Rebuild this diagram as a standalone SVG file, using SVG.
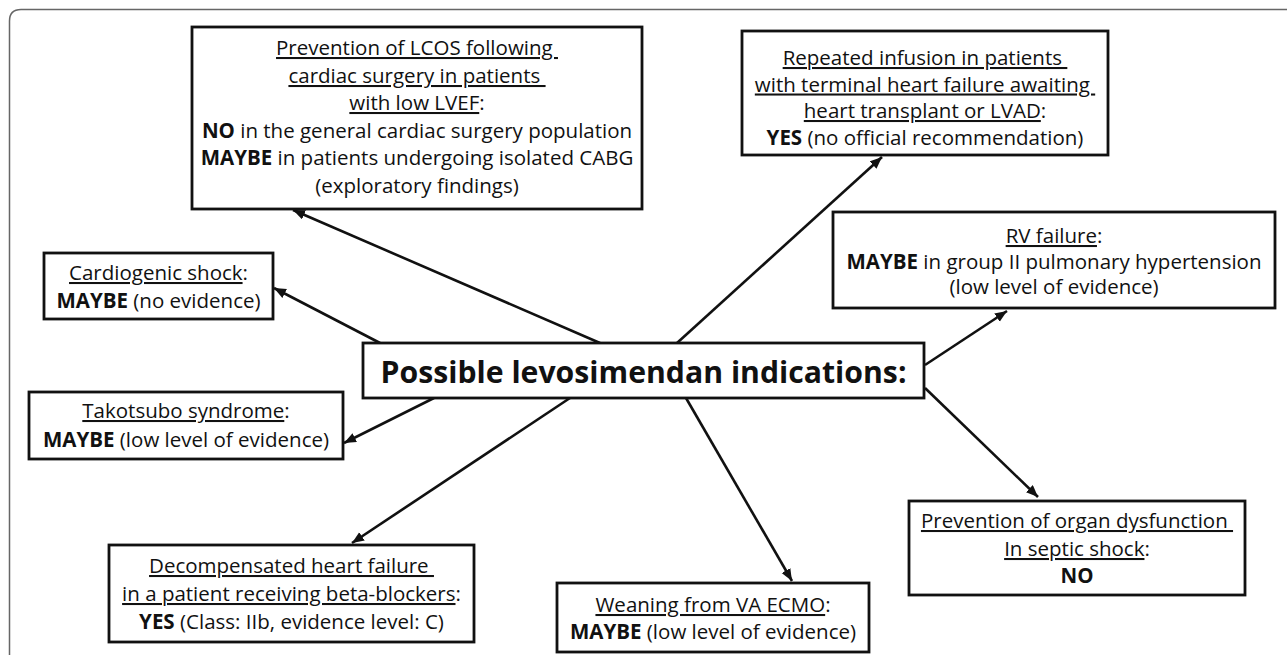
<svg xmlns="http://www.w3.org/2000/svg" width="1287" height="655" viewBox="0 0 1287 655">
  <defs>
    <marker id="arrow" markerUnits="userSpaceOnUse" markerWidth="13" markerHeight="11" refX="12" refY="5" orient="auto">
      <path d="M0,0 L12,5 L0,10 Z" fill="#111"/>
    </marker>
    <style>
      .box { fill: #fff; stroke: #111; stroke-width: 2.8; }
      .t { font-family: "Open Sans", "Liberation Sans", sans-serif; font-size: 20.5px; fill: #111; text-anchor: middle; }
      .b { font-weight: 700; }
      .u { text-decoration: underline; }
      .title { font-family: "Open Sans", "Liberation Sans", sans-serif; font-size: 31px; font-weight: 700; fill: #111; text-anchor: middle; }
      .conn { stroke: #111; stroke-width: 2.6; fill: none; marker-end: url(#arrow); }
      .frame { fill: none; stroke: #666; stroke-width: 1.5; }
    </style>
  </defs>
  <rect width="1287" height="655" fill="#fff"/>
  <path class="frame" d="M9.5,655 V21 Q9.5,9.5 21,9.5 H1287"/>

  <g id="connectors">
    <line class="conn" x1="600" y1="343" x2="293" y2="210"/>
    <line class="conn" x1="380" y1="343" x2="274" y2="288"/>
    <line class="conn" x1="677" y1="343" x2="882" y2="157"/>
    <line class="conn" x1="925" y1="365" x2="1007" y2="311"/>
    <line class="conn" x1="925" y1="388" x2="1038" y2="497"/>
    <line class="conn" x1="434" y1="398" x2="344" y2="443"/>
    <line class="conn" x1="570" y1="398" x2="352" y2="543"/>
    <line class="conn" x1="686" y1="398" x2="792" y2="581"/>
  </g>

  <g id="center">
    <rect class="box" x="363" y="343" width="561" height="55"/>
    <text class="title" x="643.5" y="382.5" textLength="526" lengthAdjust="spacingAndGlyphs">Possible levosimendan indications:</text>
  </g>

  <g id="lcos">
    <rect class="box" x="192" y="27" width="450" height="182"/>
    <text class="t" x="417" y="55"><tspan class="u">Prevention of LCOS following&#160;</tspan></text>
    <text class="t" x="417" y="83"><tspan class="u">cardiac surgery in patients&#160;</tspan></text>
    <text class="t" x="417" y="110"><tspan class="u">with low LVEF</tspan>:</text>
    <text class="t" x="417" y="138"><tspan class="b">NO</tspan> in the general cardiac surgery population</text>
    <text class="t" x="417" y="165"><tspan class="b">MAYBE</tspan> in patients undergoing isolated CABG</text>
    <text class="t" x="417" y="193">(exploratory findings)</text>
  </g>

  <g id="repeated">
    <rect class="box" x="742" y="31" width="366" height="124"/>
    <text class="t" x="925" y="65"><tspan class="u">Repeated infusion in patients&#160;</tspan></text>
    <text class="t" x="925" y="91.5"><tspan class="u">with terminal heart failure awaiting&#160;</tspan></text>
    <text class="t" x="925" y="118"><tspan class="u">heart transplant or LVAD</tspan>:</text>
    <text class="t" x="925" y="144.5"><tspan class="b">YES</tspan> (no official recommendation)</text>
  </g>

  <g id="rv">
    <rect class="box" x="833" y="212" width="442" height="96"/>
    <text class="t" x="1054" y="243"><tspan class="u">RV failure</tspan>:</text>
    <text class="t" x="1054" y="268.5"><tspan class="b">MAYBE</tspan> in group II pulmonary hypertension</text>
    <text class="t" x="1054" y="294">(low level of evidence)</text>
  </g>

  <g id="cardiogenic">
    <rect class="box" x="44" y="253" width="229" height="66"/>
    <text class="t" x="158.5" y="280"><tspan class="u">Cardiogenic shock</tspan>:</text>
    <text class="t" x="158.5" y="308"><tspan class="b">MAYBE</tspan> (no evidence)</text>
  </g>

  <g id="takotsubo">
    <rect class="box" x="29" y="392" width="314" height="67"/>
    <text class="t" x="186" y="418"><tspan class="u">Takotsubo syndrome</tspan>:</text>
    <text class="t" x="186" y="447"><tspan class="b">MAYBE</tspan> (low level of evidence)</text>
  </g>

  <g id="decompensated">
    <rect class="box" x="109" y="545" width="365" height="97"/>
    <text class="t" x="291.5" y="573"><tspan class="u">Decompensated heart failure&#160;</tspan></text>
    <text class="t" x="291.5" y="601"><tspan class="u">in a patient receiving beta-blockers</tspan>:</text>
    <text class="t" x="291.5" y="629"><tspan class="b">YES</tspan> (Class: IIb, evidence level: C)</text>
  </g>

  <g id="weaning">
    <rect class="box" x="557" y="583" width="312" height="69"/>
    <text class="t" x="713" y="612"><tspan class="u">Weaning from VA ECMO</tspan>:</text>
    <text class="t" x="713" y="639"><tspan class="b">MAYBE</tspan> (low level of evidence)</text>
  </g>

  <g id="septic">
    <rect class="box" x="909" y="501" width="336" height="94"/>
    <text class="t" x="1077" y="528"><tspan class="u">Prevention of organ dysfunction&#160;</tspan></text>
    <text class="t" x="1077" y="556"><tspan class="u">In septic shock</tspan>:</text>
    <text class="t" x="1077" y="583" font-weight="700">NO</text>
  </g>
</svg>
